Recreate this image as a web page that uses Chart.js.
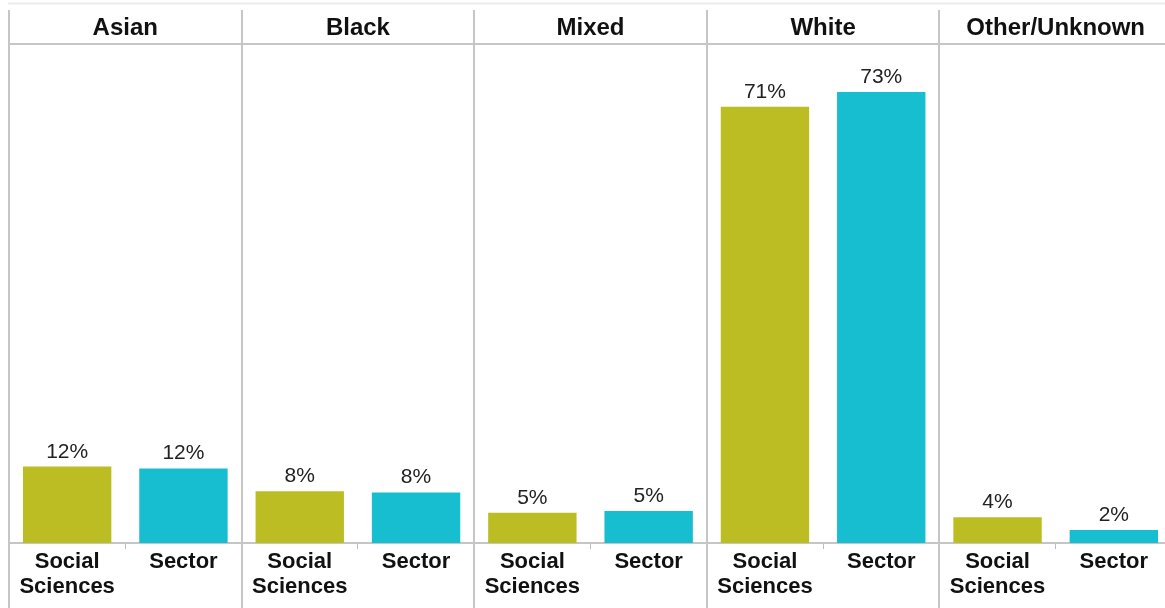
<!DOCTYPE html>
<html>
<head>
<meta charset="utf-8">
<title>Ethnicity: Social Sciences vs Sector</title>
<script src="https://cdn.jsdelivr.net/npm/chart.js@4/dist/chart.umd.min.js"></script>
<style>
  html, body { margin: 0; padding: 0; background: #ffffff; overflow: hidden; }
  #wrap { position: absolute; left: 0; top: 0; width: 1176px; height: 608px; }
</style>
</head>
<body>
<div id="wrap"><canvas id="ethnicityChart" width="1176" height="608"></canvas></div>
<script>
// ------------------------------------------------------------
// Data
// ------------------------------------------------------------
const groups = ['Asian', 'Black', 'Mixed', 'White', 'Other/Unknown'];
const seriesNames = [['Social', 'Sciences'], 'Sector'];
const socialSciences = [12.4, 8.4, 4.9, 70.8, 4.2];
const sector = [12.1, 8.2, 5.2, 73.2, 2.1];

const COLORS = {
  socialSciences: '#bcbd22',
  sector: '#17becf',
  rule: '#c6c6c6',
  faint: '#ececec',
  text: '#111111',
  value: '#222222'
};

const FONT = "'Liberation Sans', Arial, sans-serif";

// one bar per (group, series) pair, in group order
const barLabels = [];
const barValues = [];
const barColors = [];
groups.forEach((g, i) => {
  barLabels.push(seriesNames[0], seriesNames[1]);
  barValues.push(socialSciences[i], sector[i]);
  barColors.push(COLORS.socialSciences, COLORS.sector);
});

// ------------------------------------------------------------
// Plugins: panel rules and value labels
// ------------------------------------------------------------
const panelRules = {
  id: 'panelRules',
  beforeDraw(chart) {
    const { ctx, chartArea } = chart;
    ctx.save();
    ctx.strokeStyle = COLORS.faint;
    ctx.lineWidth = 2;
    ctx.beginPath();
    ctx.moveTo(chartArea.left - 1, 3.5);
    ctx.lineTo(chart.width, 3.5);
    ctx.stroke();
    ctx.restore();
  },
  afterDraw(chart) {
    const { ctx, chartArea } = chart;
    const s = chart.scales.groups;
    const w = s.width / groups.length;
    ctx.save();
    ctx.strokeStyle = COLORS.rule;
    ctx.lineWidth = 2;
    // header underline
    ctx.beginPath();
    ctx.moveTo(chartArea.left, chartArea.top);
    ctx.lineTo(chartArea.right, chartArea.top);
    ctx.stroke();
    // panel separators, full height
    for (let i = 0; i < groups.length; i++) {
      const x = Math.round(s.left + w * i);
      ctx.beginPath();
      ctx.moveTo(x, s.top);
      ctx.lineTo(x, chart.height);
      ctx.stroke();
    }
    ctx.restore();
  }
};

const valueLabels = {
  id: 'valueLabels',
  afterDatasetsDraw(chart) {
    const { ctx } = chart;
    const meta = chart.getDatasetMeta(0);
    ctx.save();
    ctx.font = `21px ${FONT}`;
    ctx.fillStyle = COLORS.value;
    ctx.textAlign = 'center';
    ctx.textBaseline = 'alphabetic';
    meta.data.forEach((bar, i) => {
      const v = chart.data.datasets[0].data[i];
      ctx.fillText(Math.round(v) + '%', bar.x, bar.y - 9);
    });
    ctx.restore();
  }
};

// ------------------------------------------------------------
// Chart
// ------------------------------------------------------------
new Chart(document.getElementById('ethnicityChart'), {
  type: 'bar',
  data: {
    labels: barLabels,
    datasets: [{
      data: barValues,
      backgroundColor: barColors,
      borderWidth: 0,
      categoryPercentage: 1,
      barPercentage: 0.76
    }]
  },
  options: {
    responsive: false,
    animation: false,
    devicePixelRatio: 1,
    layout: { padding: { left: 9, right: 4, top: 10, bottom: 0 } },
    plugins: {
      legend: { display: false },
      tooltip: { enabled: false }
    },
    scales: {
      x: {
        position: 'bottom',
        offset: true,
        afterFit(scale) { scale.height = 65; },
        border: { display: true, color: COLORS.rule, width: 2 },
        grid: {
          offset: true,
          drawOnChartArea: false,
          drawTicks: true,
          tickLength: 6,
          color: '#bdbdbd',
          lineWidth: 1
        },
        ticks: {
          padding: 0,
          maxRotation: 0,
          autoSkip: false,
          color: COLORS.text,
          font: { family: FONT, size: 22, weight: 'bold', lineHeight: 1.14 }
        }
      },
      groups: {
        type: 'category',
        axis: 'x',
        position: 'top',
        labels: groups,
        offset: true,
        afterFit(scale) { scale.height = 34; },
        border: { display: false },
        grid: { display: false, drawTicks: false },
        ticks: {
          padding: 1,
          maxRotation: 0,
          autoSkip: false,
          color: COLORS.text,
          font: { family: FONT, size: 24, weight: 'bold', lineHeight: 1.2 }
        }
      },
      y: {
        display: false,
        min: 0,
        max: 81
      }
    }
  },
  plugins: [panelRules, valueLabels]
});
</script>
</body>
</html>
